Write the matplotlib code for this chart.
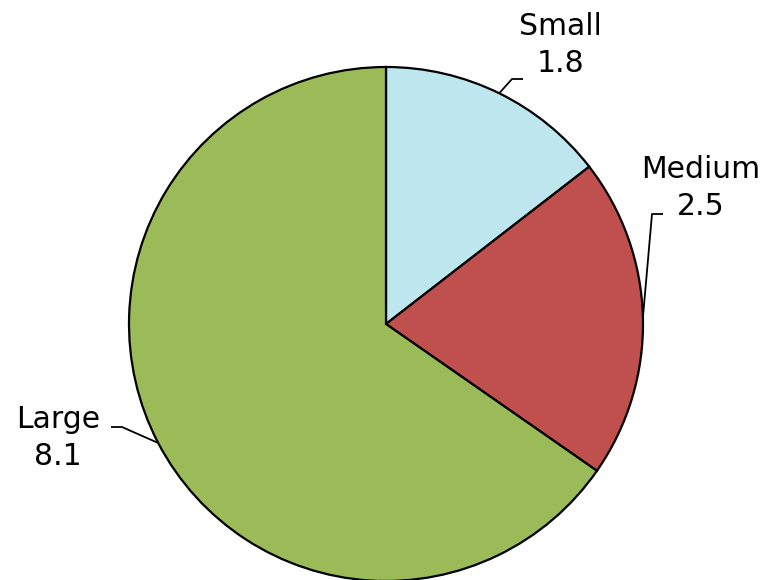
import numpy as np
import matplotlib
matplotlib.use("Agg")
import matplotlib.pyplot as plt

# ─── Data ────────────────────────────────────────────────────────────────────
labels = ["Small", "Medium", "Large"]
values = [1.8, 2.5, 8.1]
colors = ["#BDE6EE", "#C0504D", "#9BBB59"]

# ─── Layout (pixel space, y up) ──────────────────────────────────────────────
W, H = 781, 580
CENTER = (386, H - 324)
RADIUS = 257
# text centre, elbow of leader, end of leader (pixels from top-left)
LABEL_LAYOUT = {
    "Small":  dict(text=(560, 45),  elbow=(512, 79),  end=(523, 79)),
    "Medium": dict(text=(701, 188), elbow=(652, 214), end=(663, 214)),
    "Large":  dict(text=(58, 438),  elbow=(122, 427), end=(111, 427)),
}

plt.rcParams["font.family"] = ["DejaVu Sans"]

fig = plt.figure(figsize=(W / 100, H / 100), dpi=100)
ax = fig.add_axes([0, 0, 1, 1])

wedges, _ = ax.pie(values, colors=colors, startangle=90, counterclock=False,
                   center=CENTER, radius=RADIUS,
                   wedgeprops=dict(edgecolor="black", linewidth=1.6))

for w, lab, val in zip(wedges, labels, values):
    mid = np.deg2rad((w.theta1 + w.theta2) / 2)
    ex = CENTER[0] + RADIUS * np.cos(mid)
    ey = CENTER[1] + RADIUS * np.sin(mid)
    lay = LABEL_LAYOUT[lab]
    ax.plot([ex, lay["elbow"][0], lay["end"][0]],
            [ey, H - lay["elbow"][1], H - lay["end"][1]],
            color="black", linewidth=1.3, solid_capstyle="butt")
    ax.text(lay["text"][0], H - lay["text"][1], f"{lab}\n{val}",
            ha="center", va="center", fontsize=21.5, linespacing=1.35)

ax.set_xlim(0, W)
ax.set_ylim(0, H)
ax.set_aspect("equal")
ax.axis("off")

fig.savefig("out.png", dpi=100, facecolor="white")
